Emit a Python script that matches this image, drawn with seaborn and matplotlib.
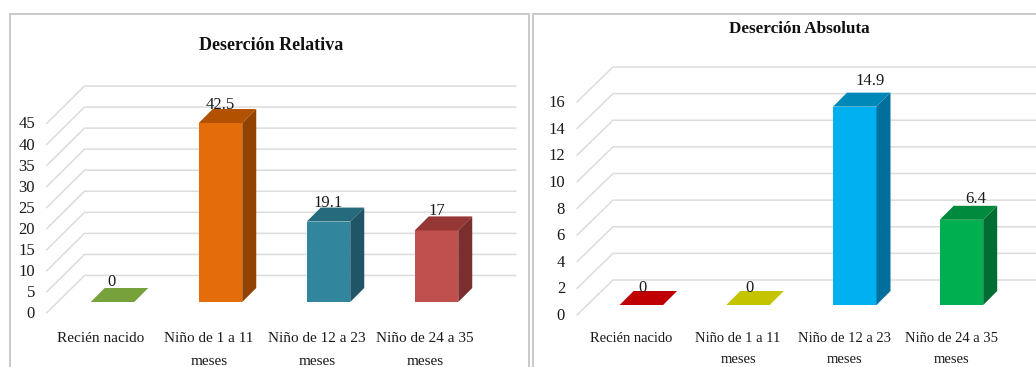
import matplotlib
matplotlib.use("Agg")
import matplotlib.pyplot as plt
import seaborn as sns
from matplotlib.lines import Line2D
from matplotlib.patches import Polygon, Rectangle
from matplotlib.transforms import IdentityTransform

sns.set_theme(style="white")
plt.rcParams["font.family"] = ["Liberation Serif", "DejaVu Serif"]

# Data
categories = ["Recién nacido", "Niño de 1 a 11\nmeses", "Niño de 12 a 23\nmeses", "Niño de 24 a 35\nmeses"]
relative_values = [0, 42.5, 19.1, 17]
absolute_values = [0, 0, 14.9, 6.4]
relative_ticks = [0, 5, 10, 15, 20, 25, 30, 35, 40, 45]
absolute_ticks = [0, 2, 4, 6, 8, 10, 12, 14, 16]

# Front, top and side shades of each column
relative_front = ["#77A23B", "#E46C0A", "#31859C", "#C0504D"]
relative_top = ["#77A23B", "#B25100", "#256A7D", "#953735"]
relative_side = ["#77A23B", "#924300", "#1F5566", "#7A2E2D"]
absolute_front = ["#C00000", "#C4C400", "#00B0F0", "#00B050"]
absolute_top = ["#C00000", "#C4C400", "#0088B8", "#008A3E"]
absolute_side = ["#C00000", "#C4C400", "#006F9E", "#006E32"]

W, H = 1036, 367
GRID = "#DCDCDC"
TEXT = "#1A1A1A"
BORDER = "#C9C9C9"

fig = plt.figure(figsize=(W / 100, H / 100), dpi=100, facecolor="white")
identity = IdentityTransform()


def add_panel(x0, y0, x1, y1):
    fig.add_artist(Rectangle((x0 / W, 1 - y1 / H), (x1 - x0) / W, (y1 - y0) / H,
                             transform=fig.transFigure, fc="white", ec=BORDER, lw=1.4, zorder=-1))


def draw_chart(values, ticks, front, top, side, layout):
    base_x, base_y, spacing, plot_h = layout["base_x"], layout["base_y"], layout["spacing"], layout["plot_h"]
    ax = fig.add_axes([base_x / W, 1 - base_y / H, 4 * spacing / W, plot_h / H])
    sns.barplot(x=categories, y=values, hue=categories, palette=front, saturation=1,
                width=43.5 / spacing, legend=False, ax=ax, zorder=3, linewidth=0)
    ax.set_autoscale_on(False)
    ax.set_xlim(-0.5, 3.5)
    ax.set_ylim(0, ticks[-1])
    ax.axis("off")

    # Floor and back wall grid, offset from the column plane in pixels
    fx, fy = layout["front_x"], layout["front_dy"]
    bx, by = layout["back_x"], layout["back_dy"]
    for tick in ticks:
        yd = ax.transData.transform((0, tick))[1]
        ax.add_line(Line2D([fx, bx, layout["grid_end"]], [yd + fy, yd + by, yd + by],
                           transform=identity, color=GRID, lw=1.1, zorder=1, clip_on=False))
        ax.text(layout["tick_x"], yd + fy - 1, str(tick), transform=identity, ha="right", va="center",
                fontsize=layout["fs"], color=TEXT, clip_on=False)

    # Extruded top and side faces built from each drawn column
    depth = 14
    for i, bar in enumerate(ax.patches[:4]):
        (x0, y0), (x1, y1) = ax.transData.transform(
            [(bar.get_x(), 0), (bar.get_x() + bar.get_width(), values[i])])
        ax.add_patch(Polygon([(x0, y1), (x1, y1), (x1 + depth, y1 + depth), (x0 + depth, y1 + depth)],
                             closed=True, transform=identity, fc=top[i], ec="none", zorder=4, clip_on=False))
        if values[i] > 0:
            ax.add_patch(Polygon([(x1, y0), (x1 + depth, y0 + depth), (x1 + depth, y1 + depth), (x1, y1)],
                                 closed=True, transform=identity, fc=side[i], ec="none", zorder=4, clip_on=False))
        cx = (x0 + x1) / 2
        dx, dy = layout["label_offsets"][i]
        ax.text(cx + dx, y1 + dy, f"{values[i]:g}", transform=identity, ha="center", va="center",
                fontsize=layout["fs"], color=TEXT, zorder=6, clip_on=False)
        ax.text(cx - layout["cat_shift"], H - layout["cat_y"], categories[i], transform=identity,
                ha="center", va="top", fontsize=layout["cat_fs"], color=TEXT,
                linespacing=layout["cat_spacing"], clip_on=False)

    fig.text(layout["title_x"] / W, 1 - layout["title_y"] / H, layout["title"], ha="center", va="center",
             fontsize=layout["title_fs"], fontweight="bold", color="#111111")


add_panel(10, 14, 529, 380)
add_panel(533, 14, 1050, 380)

draw_chart(relative_values, relative_ticks, relative_front, relative_top, relative_side, dict(
    base_x=58.5, base_y=302, spacing=108, plot_h=189.5,
    front_x=46.6, front_dy=-11, back_x=84.5, back_dy=26.5, grid_end=516,
    tick_x=35, fs=12, cat_fs=11, cat_shift=11.5, cat_y=332, cat_spacing=2.0,
    label_offsets=[(-1, 20), (0, 18), (0, 19), (0, 19)],
    title="Deserción Relativa", title_x=271, title_y=46, title_fs=13))

draw_chart(absolute_values, absolute_ticks, absolute_front, absolute_top, absolute_side, dict(
    base_x=588, base_y=305, spacing=106.7, plot_h=213,
    front_x=577, front_dy=-10, back_x=613, back_dy=25, grid_end=1036,
    tick_x=565, fs=12, cat_fs=10.5, cat_shift=10, cat_y=332, cat_spacing=1.84,
    label_offsets=[(1, 17), (1, 17), (15, 26), (14, 21)],
    title="Deserción Absoluta", title_x=799, title_y=29, title_fs=12.3))

fig.savefig("out.png", dpi=100, facecolor="white")
